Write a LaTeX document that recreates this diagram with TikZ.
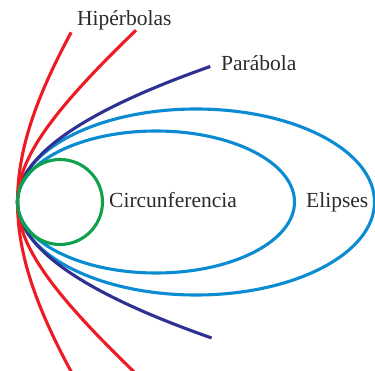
\documentclass[tikz,border=0pt]{standalone}
\usepackage{fontspec}
\setmainfont{Liberation Serif}
\definecolor{hypred}{HTML}{ED1C24}
\definecolor{parblue}{HTML}{2E3192}
\definecolor{ellblue}{HTML}{0A8BD2}
\definecolor{circgreen}{HTML}{0DA14B}
\definecolor{labelgray}{HTML}{2B2B2B}
\begin{document}
\begin{tikzpicture}[x=1pt,y=-1pt,
  curve/.style={line width=3.1pt},
  lbl/.style={anchor=base west, inner sep=0pt, text=labelgray, font=\fontsize{21.5}{25}\selectfont}]
\useasboundingbox (0,0) rectangle (375,371);
\clip (0,0) rectangle (375,371);
% ellipses
\draw[curve, ellblue] (196,202) ellipse [x radius=178.5, y radius=93];
\draw[curve, ellblue] (156,202) ellipse [x radius=138.5, y radius=71];
% parabola
\draw[curve, parblue] plot[domain=-1.355:1.36, samples=100, smooth, variable=\t]
  ({17.5+105*\t*\t},{202+100*\t});
% hyperbolas
\draw[curve, hypred] plot[domain=-0.88:0.88, samples=80, smooth, variable=\t]
  ({17.5-130+130*cosh(\t)},{202+170*sinh(\t)});
\draw[curve, hypred] plot[domain=-1.31:1.35, samples=80, smooth, variable=\t]
  ({17.5-120+120*cosh(\t)},{202+100*sinh(\t)});
% circle
\draw[curve, circgreen] (60,202) circle [radius=42.5];
% labels
\node[lbl] (hip) at (77,26) {Hipérbolas};
\node[lbl] (par) at (221,71) {Parábola};
\node[lbl] (cir) at (109,207.5) {Circunferencia};
\node[lbl] (eli) at (306,207.5) {Elipses};
\end{tikzpicture}
\end{document}
